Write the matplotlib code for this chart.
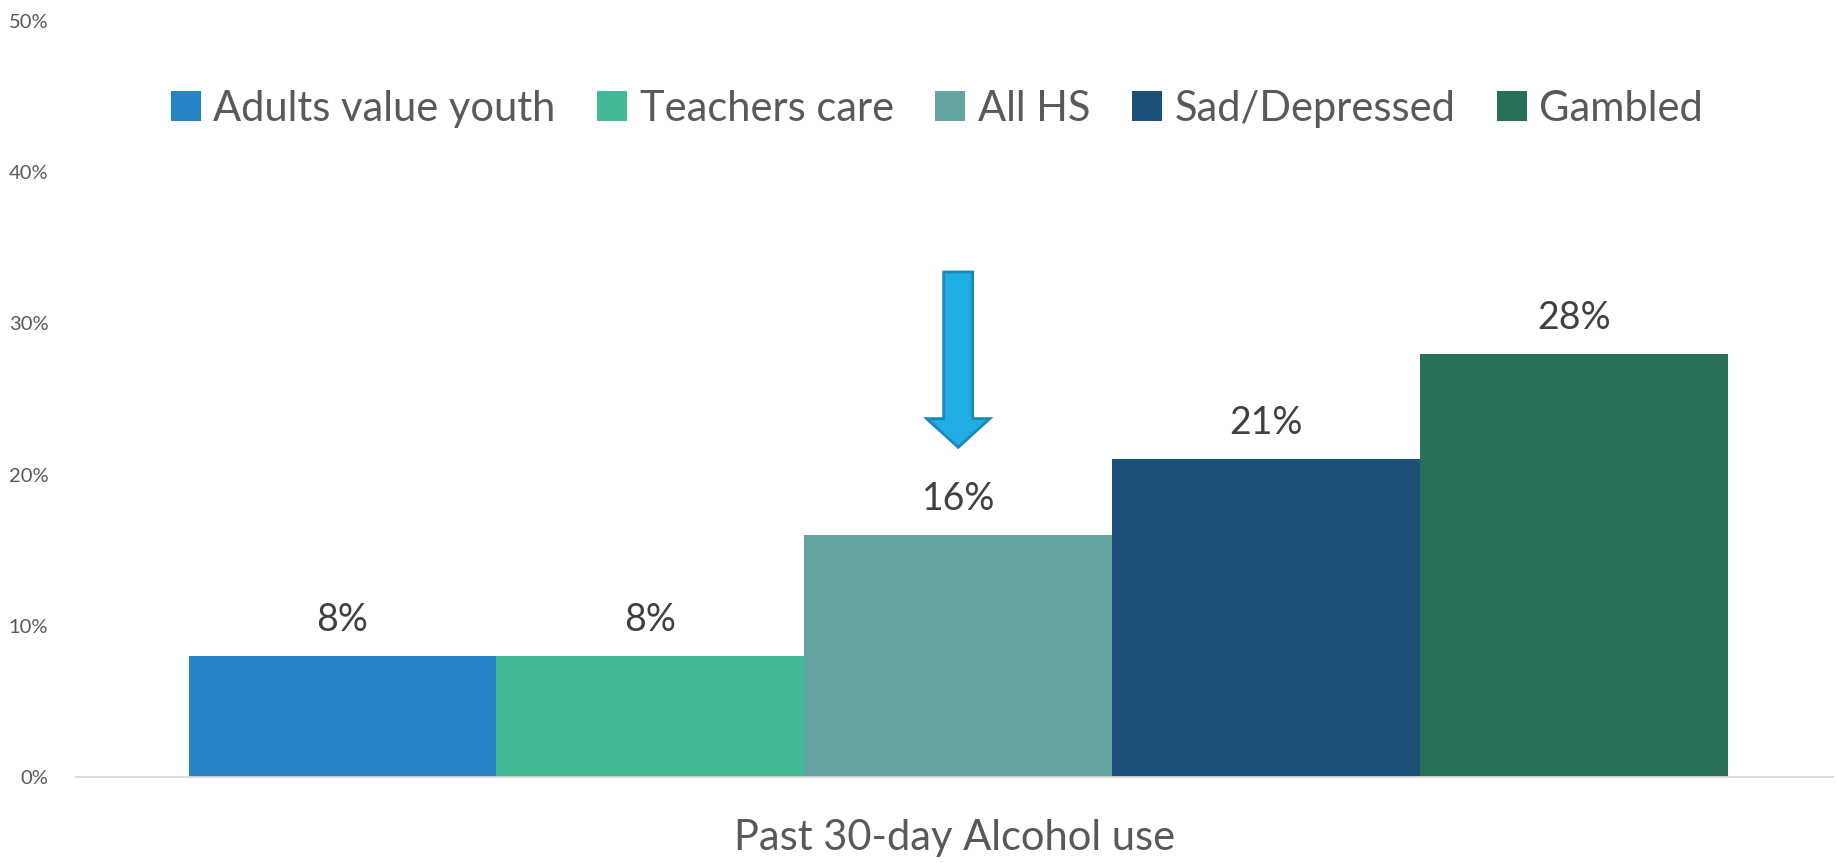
import matplotlib.pyplot as plt
from matplotlib.patches import FancyArrow

# data
category = 'Past 30-day Alcohol use'
groups = ['Adults value youth', 'Teachers care', 'All HS', 'Sad/Depressed', 'Gambled']
values = [8, 8, 16, 21, 28]
colors = ['#2683C6', '#42BA97', '#62A39F', '#1C5078', '#27705A']
y_ticks = [0, 10, 20, 30, 40, 50]

plt.rcParams['font.family'] = ['Lato', 'DejaVu Sans']

fig = plt.figure(figsize=(18.37, 8.63), dpi=100)
ax = fig.add_axes([0.0414, 0.0997, 0.9566, 0.876])

n = len(groups)
width = 0.876 / n
shift = 0.002
bars = []
for i, (g, v, c) in enumerate(zip(groups, values, colors)):
    x = (i - (n - 1) / 2) * width + shift
    b = ax.bar(x, v, width=width, color=c, label=g)
    bars.append(b)
    ax.annotate(f'{v}%', (x, v), xytext=(0, 13), textcoords='offset points',
                ha='center', va='bottom', fontsize=27, color='#404040')

# arrow pointing at All HS
x_hs = (2 - (n - 1) / 2) * width + shift
arrow = FancyArrow(x_hs, 33.4, 0, -11.6, width=0.0165, head_width=0.036,
                   head_length=1.9, length_includes_head=True,
                   facecolor='#1FADE4', edgecolor='#1A87B5', linewidth=2)
ax.add_patch(arrow)

ax.set_xlim(-0.5, 0.5)
ax.set_ylim(0, 50)
ax.set_yticks(y_ticks)
ax.set_yticklabels([f'{t}%' for t in y_ticks], fontsize=14.5, color='#595959')
ax.set_xticks([0])
ax.set_xticklabels([category], fontsize=30, color='#595959')
ax.tick_params(axis='both', length=0)
ax.tick_params(axis='x', pad=30)
ax.tick_params(axis='y', pad=20)

for s in ['top', 'right', 'left']:
    ax.spines[s].set_visible(False)
ax.spines['bottom'].set_color('#D9D9D9')
ax.spines['bottom'].set_linewidth(1.3)

fig.legend(loc='center', bbox_to_anchor=(0.51, 0.874), ncol=n, frameon=False,
           fontsize=30, labelcolor='#595959', handlelength=0.72, handleheight=0.72,
           handletextpad=0.3, columnspacing=1.0)

plt.savefig('out.png', dpi=100)
